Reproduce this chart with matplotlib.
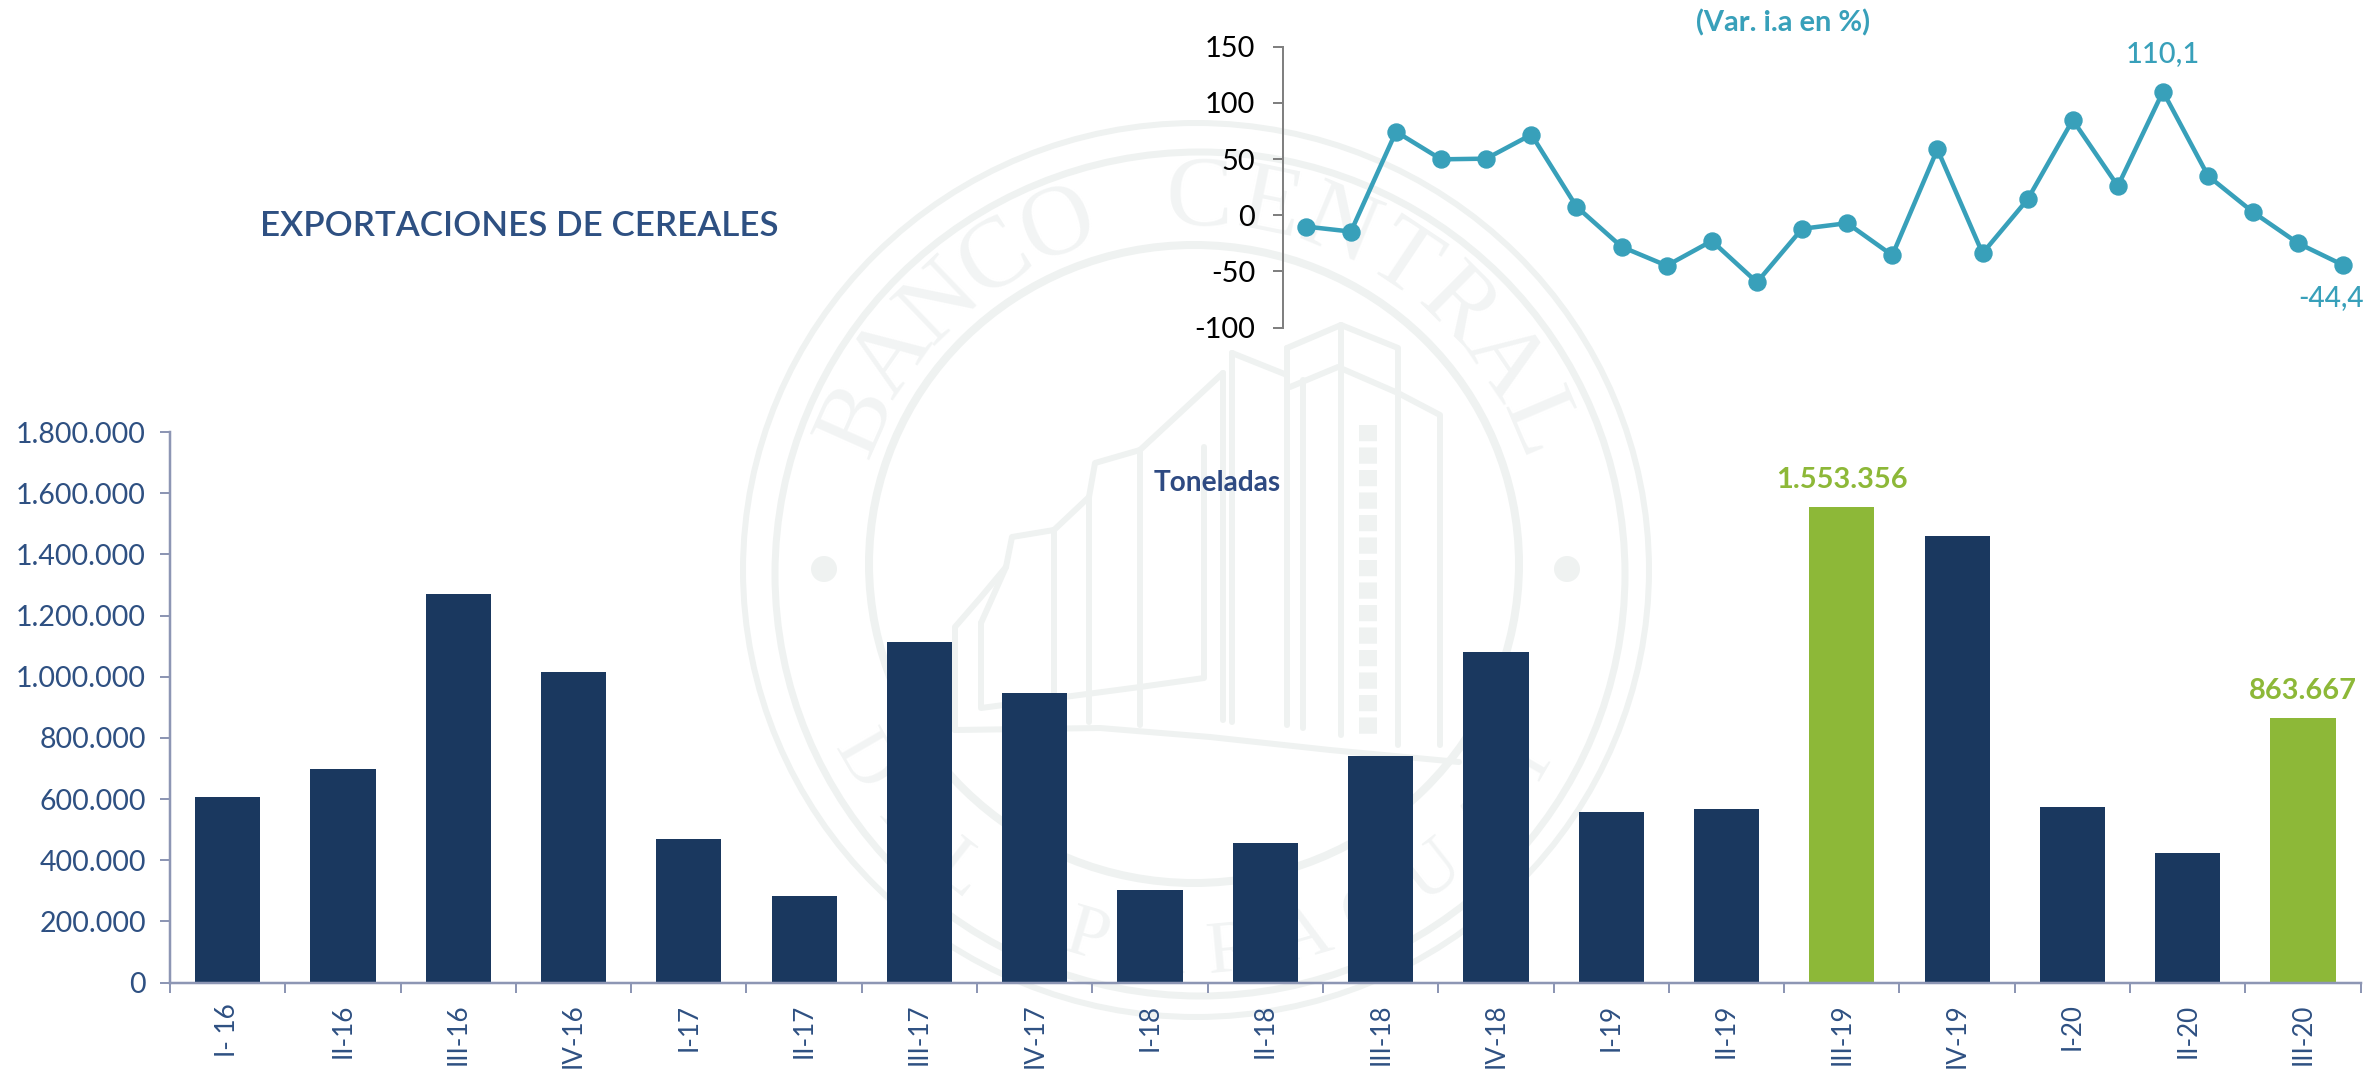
import numpy as np
import matplotlib
matplotlib.use('Agg')
import matplotlib.pyplot as plt
from matplotlib.patches import Ellipse, Circle

plt.rcParams['font.family'] = ['Lato', 'DejaVu Sans']

W, H = 2366, 1075

# data
quarters = ['I- 16', 'II-16', 'III-16', 'IV-16', 'I-17', 'II-17', 'III-17', 'IV-17',
            'I-18', 'II-18', 'III-18', 'IV-18', 'I-19', 'II-19', 'III-19', 'IV-19',
            'I-20', 'II-20', 'III-20']
tons = [606000, 697000, 1271000, 1017000, 468000, 284000, 1113000, 947000,
        302000, 455000, 742000, 1081000, 559000, 569000, 1553356, 1459000,
        574000, 425000, 863667]
highlight = ['III-19', 'III-20']
var_ia = [-10, -14.5, 74.4, 49.8, 50.4, 71.8, 7.7, -28, -44.8, -22.8, -59.6, -12,
          -7, -35.6, 58.7, -33.8, 14.2, 84.8, 26, 110.1, 35, 2.7, -25, -44.4]
bar_ticks = [0, 200000, 400000, 600000, 800000, 1000000, 1200000, 1400000, 1600000, 1800000]
line_ticks = [-100, -50, 0, 50, 100, 150]

NAVY = '#1A385F'
GREEN = '#8DB838'
TEAL = '#38A0BA'
TEXT = '#2E5082'
AXIS = '#8D96B4'
MARK = '#EFF2F1'


def px(v):
    # pixels to points at dpi 100
    return v * 0.72


def rect(left, top, right, bottom):
    return [left / W, 1 - bottom / H, (right - left) / W, (bottom - top) / H]


def dots(v):
    return f'{v:,}'.replace(',', '.')


fig = plt.figure(figsize=(W / 100, H / 100), dpi=100, facecolor='white')

# seal in the background
bg = fig.add_axes([0, 0, 1, 1], zorder=0)
bg.set_xlim(0, W)
bg.set_ylim(H, 0)
bg.axis('off')
for cx, cy, rx, ry, lw in [(1196, 570, 453, 447, 6), (1200, 574, 425, 422, 7), (1194, 564, 325, 319, 8)]:
    bg.add_patch(Ellipse((cx, cy), 2 * rx, 2 * ry, fill=False, ec=MARK, lw=px(lw)))
for cx in (824, 1567):
    bg.add_patch(Circle((cx, 569), 13, fc=MARK, ec='none'))

for i, ch in enumerate('BANCO CENTRAL'):
    t = np.radians(-66 + i * 11.08)
    bg.text(1196 + 370 * np.sin(t), 570 - 370 * np.cos(t), ch, family='Liberation Serif', fontsize=px(100),
            color='#F2F4F4', rotation=-np.degrees(t), rotation_mode='anchor', ha='center', va='center')
for i, ch in enumerate('DEL PARAGUAY'):
    t = np.radians(-60 + i * 10.9)
    bg.text(1196 + 385 * np.sin(t), 570 + 385 * np.cos(t), ch, family='Liberation Serif', fontsize=px(75),
            color='#F2F4F4', rotation=np.degrees(t), rotation_mode='anchor', ha='center', va='center')

building = [
    [(1287, 348), (1341, 325), (1398, 348), (1398, 745)],
    [(1290, 387), (1338, 367), (1398, 393)],
    [(1287, 348), (1287, 725)],
    [(1303, 380), (1303, 728)],
    [(1341, 325), (1341, 735)],
    [(1232, 353), (1287, 375)],
    [(1232, 353), (1232, 722)],
    [(1223, 373), (1223, 720)],
    [(1398, 393), (1440, 415), (1440, 745)],
    [(1223, 373), (1140, 450), (1095, 463), (1089, 497), (1054, 530), (1012, 537), (1006, 567), (981, 597), (955, 627), (955, 730)],
    [(981, 623), (981, 708), (1140, 687), (1204, 678), (1204, 447)],
    [(1140, 450), (1140, 725)],
    [(1089, 497), (1089, 722)],
    [(1054, 530), (1054, 720)],
    [(1006, 567), (981, 623)],
    [(955, 730), (1100, 728), (1210, 737), (1330, 750), (1459, 762)],
]
for seg in building:
    xs, ys = zip(*seg)
    bg.plot(xs, ys, color=MARK, lw=px(6), solid_capstyle='round', solid_joinstyle='round')
# column of windows on the tower
bg.plot([1368, 1368], [425, 740], color=MARK, lw=px(18), linestyle=(0, (0.9, 0.35)))

# bars
ax = fig.add_axes(rect(170, 432, 170 + 19 * 115.3, 982.6), zorder=1)
ax.patch.set_alpha(0)
x = np.arange(len(quarters))
colors = [GREEN if q in highlight else NAVY for q in quarters]
ax.bar(x, tons, width=0.565, color=colors)
ax.set_xlim(-0.5, len(quarters) - 0.5)
ax.set_ylim(0, 1800000)
ax.set_yticks(bar_ticks)
ax.set_yticklabels([dots(v) for v in bar_ticks], fontsize=px(28.5), color=TEXT)
ax.set_xticks(np.arange(len(quarters) + 1) - 0.5)
ax.set_xticklabels([])
ax.set_xticks(x, minor=True)
ax.set_xticklabels(quarters, minor=True, rotation=90, fontsize=px(26), color=TEXT, ha='center', va='top')
ax.tick_params(axis='x', which='minor', length=0, pad=px(21))
ax.tick_params(axis='x', which='major', length=px(10), width=px(2), color=AXIS)
ax.tick_params(axis='y', length=px(10), width=px(2), color=AXIS, pad=px(14))
for s in ('top', 'right'):
    ax.spines[s].set_visible(False)
for s in ('left', 'bottom'):
    ax.spines[s].set_color(AXIS)
    ax.spines[s].set_linewidth(px(2.5))
for q in highlight:
    i = quarters.index(q)
    ax.annotate(dots(tons[i]), (i, tons[i]), xytext=(0, px(27)), textcoords='offset points',
                ha='center', va='center', fontsize=px(29), fontweight='bold', color=GREEN)

# line
ax2 = fig.add_axes(rect(1283.25, 46.7, W, 327.7), zorder=2)
ax2.patch.set_alpha(0)
ax2.plot(range(len(var_ia)), var_ia, color=TEAL, lw=px(4.5), marker='o', ms=px(17), clip_on=False)
ax2.set_xlim(-0.5, 23.5)
ax2.set_ylim(-100, 150)
ax2.set_yticks(line_ticks)
ax2.set_yticklabels([str(v) for v in line_ticks], fontsize=px(29), color='black')
ax2.set_xticks([])
ax2.tick_params(axis='y', length=px(10), width=px(2), color='#808080', pad=px(18))
for s in ('top', 'right', 'bottom'):
    ax2.spines[s].set_visible(False)
ax2.spines['left'].set_color('#808080')
ax2.spines['left'].set_linewidth(px(2))
peak = var_ia.index(max(var_ia))
ax2.annotate(f'{var_ia[peak]:.1f}'.replace('.', ','), (peak, var_ia[peak]), xytext=(0, px(38)),
             textcoords='offset points', ha='center', va='center', fontsize=px(29), fontweight='medium', color=TEAL)
ax2.annotate(f'{var_ia[-1]:.1f}'.replace('.', ','), (len(var_ia) - 1, var_ia[-1]), xytext=(px(-12), px(-33)),
             textcoords='offset points', ha='center', va='center', fontsize=px(28), fontweight='medium', color=TEAL)

fig.text(1783 / W, 1 - 23 / H, '(Var. i.a en %)', ha='center', va='center', fontsize=px(29), fontweight='bold', color=TEAL)
fig.text(519 / W, 1 - 226 / H, 'EXPORTACIONES DE CEREALES', ha='center', va='center', fontsize=px(35), fontweight='semibold', color=TEXT)
fig.text(1217 / W, 1 - 483 / H, 'Toneladas', ha='center', va='center', fontsize=px(28), fontweight='bold', color='#2E4A82')

fig.savefig('out.png', dpi=100, facecolor='white')
